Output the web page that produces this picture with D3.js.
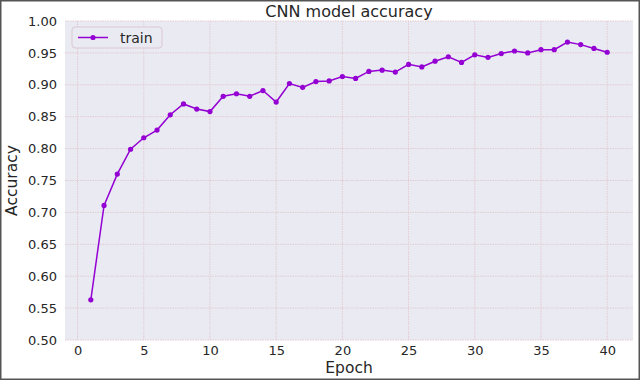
<!DOCTYPE html>
<html lang="en">
<head>
  <meta charset="UTF-8">
  <title>CNN model accuracy</title>
  <style>
    html, body { margin: 0; padding: 0; background: #fff; }
    svg { display: block; }
    text { font-family: "DejaVu Sans", sans-serif; fill: #262626; }
  </style>
</head>
<body>
  <svg></svg>
  <script src="https://cdn.jsdelivr.net/npm/d3@7"></script>
  <script>
    var epochs = d3.range(1, 41)
    var accuracy = [
      0.563, 0.711, 0.760, 0.799, 0.817, 0.829, 0.853, 0.870, 0.862, 0.858,
      0.882, 0.886, 0.882, 0.891, 0.873, 0.902, 0.896, 0.905, 0.906, 0.913,
      0.910, 0.921, 0.923, 0.920, 0.932, 0.928, 0.937, 0.944, 0.935, 0.947,
      0.943, 0.949, 0.953, 0.950, 0.955, 0.955, 0.967, 0.963, 0.957, 0.951
    ]
    var xTicks = [0, 5, 10, 15, 20, 25, 30, 35, 40]
    var yTicks = [0.50, 0.55, 0.60, 0.65, 0.70, 0.75, 0.80, 0.85, 0.90, 0.95, 1.00]
    var seriesName = "train"

    var width = 640
    var height = 380
    // plot box (not named top/left: window.top is read-only)
    var pL = 65, pR = 633, pT = 21, pB = 340
    var color = "#9400d3"
    var gridColor = "#e3cbd2"

    var x = d3.scaleLinear().domain([-0.95, 41.95]).range([pL, pR])
    var y = d3.scaleLinear().domain([0.5, 1.0]).range([pB, pT])

    var svg = d3.select("svg").attr("width", width).attr("height", height)

    // frame around the picture
    svg.append("rect")
      .attr("x", 0.75).attr("y", 0.75)
      .attr("width", width - 1.5).attr("height", height - 1.5)
      .attr("fill", "#fff").attr("stroke", "#555").attr("stroke-width", 1.5)

    svg.append("rect")
      .attr("x", pL).attr("y", pT)
      .attr("width", pR - pL).attr("height", pB - pT)
      .attr("fill", "#eaeaf2")

    // grid
    svg.append("g").selectAll("line")
      .data(xTicks).join("line")
      .attr("x1", d => x(d)).attr("x2", d => x(d))
      .attr("y1", pT).attr("y2", pB)
      .attr("stroke", gridColor).attr("stroke-width", 1)
      .attr("stroke-dasharray", "1.5,1")
    svg.append("g").selectAll("line")
      .data(yTicks).join("line")
      .attr("x1", pL).attr("x2", pR)
      .attr("y1", d => y(d)).attr("y2", d => y(d))
      .attr("stroke", gridColor).attr("stroke-width", 1)
      .attr("stroke-dasharray", "1.5,1")

    // axes (labels only, seaborn style)
    var xAxis = svg.append("g")
      .attr("transform", `translate(0, ${pB})`)
      .call(d3.axisBottom(x).tickValues(xTicks).tickSize(0).tickPadding(6))
    var yAxis = svg.append("g")
      .attr("transform", `translate(${pL}, 0)`)
      .call(d3.axisLeft(y).tickValues(yTicks).tickFormat(d3.format(".2f")).tickSize(0).tickPadding(8))
    svg.selectAll(".domain").remove()
    svg.selectAll(".tick text").attr("font-size", 13).attr("fill", "#333")
      .attr("font-family", "DejaVu Sans, sans-serif")

    var line = d3.line().x((d, i) => x(epochs[i])).y(d => y(d))
    svg.append("path")
      .datum(accuracy)
      .attr("d", line)
      .attr("fill", "none")
      .attr("stroke", color)
      .attr("stroke-width", 1.5)
    svg.append("g").selectAll("circle")
      .data(accuracy).join("circle")
      .attr("cx", (d, i) => x(epochs[i]))
      .attr("cy", d => y(d))
      .attr("r", 2.6)
      .attr("fill", color)

    // title and axis labels
    svg.append("text")
      .attr("x", (pL + pR) / 2).attr("y", 17)
      .attr("text-anchor", "middle").attr("font-size", 16)
      .text("CNN model accuracy")
    svg.append("text")
      .attr("x", (pL + pR) / 2).attr("y", 373)
      .attr("text-anchor", "middle").attr("font-size", 15.5)
      .text("Epoch")
    svg.append("text")
      .attr("transform", `translate(17, ${(pT + pB) / 2}) rotate(-90)`)
      .attr("text-anchor", "middle").attr("font-size", 15.5)
      .text("Accuracy")

    // legend
    var lg = svg.append("g").attr("transform", "translate(72, 27)")
    lg.append("rect")
      .attr("width", 90).attr("height", 21).attr("rx", 3)
      .attr("fill", "#eaeaf2").attr("stroke", "#dcc8d2").attr("stroke-width", 1)
    lg.append("line")
      .attr("x1", 6).attr("x2", 36).attr("y1", 10.5).attr("y2", 10.5)
      .attr("stroke", color).attr("stroke-width", 1.5)
    lg.append("circle").attr("cx", 21).attr("cy", 10.5).attr("r", 2.6).attr("fill", color)
    lg.append("text")
      .attr("x", 48).attr("y", 15.5).attr("font-size", 14)
      .text(seriesName)
  </script>
</body>
</html>
